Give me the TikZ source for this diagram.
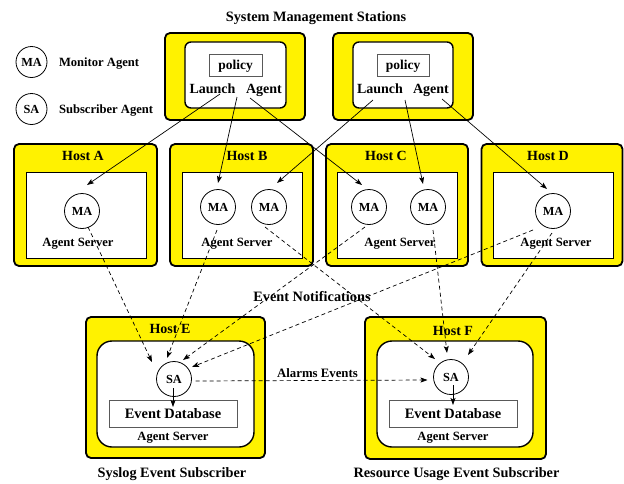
\documentclass[tikz,border=0pt]{standalone}
\usepackage{fontspec}
\setmainfont{Liberation Serif}
\usetikzlibrary{arrows.meta,calc}
\begin{document}
\begin{tikzpicture}[x=1pt,y=-1pt,
  every node/.style={inner sep=0pt, outer sep=0pt},
  txt/.style={font=\bfseries\fontsize{#1}{#1}\selectfont, text height={0.66*#1pt}, text depth=0pt},
  yb/.style={draw=black, fill=yellow, line width=1.8pt, rounded corners=5pt},
  wb/.style={draw=black, fill=white, line width=1.4pt, rounded corners=#1},
  hb/.style={draw=black, fill=white, line width=1pt},
  gb/.style={draw=black!65, fill=white, line width=1pt},
  agent/.style={circle, draw=black, fill=white, line width=0.8pt, minimum size=35pt, txt=12.3},
  arr/.style={-{Stealth[length=7pt,width=5pt,inset=1.5pt]}, line width=0.7pt},
  darr/.style={arr, dash pattern=on 4pt off 3pt}]
\path[fill=white,use as bounding box] (0,0) rectangle (624,483);

% title and legend
\node[txt=14.3] (title) at (316,17) {System Management Stations};
\node[agent, minimum size=31pt, txt=12.3] (lgMA) at (31.5,62) {MA};
\node[txt=12.6, anchor=west] (lgMAt) at (59,62) {Monitor Agent};
\node[agent, minimum size=31pt, txt=12.3] (lgSA) at (31.5,109) {SA};
\node[txt=12.6, anchor=west] (lgSAt) at (59,109) {Subscriber Agent};

% stations
\node[yb, minimum width=140, minimum height=87] (st1) at (235,76.5) {};
\node[wb=6pt, minimum width=101, minimum height=66] (st1in) at (235.5,75) {};
\node[gb, minimum width=53, minimum height=22, txt=13.5] (pol1) at (235.5,65) {policy};
\node[txt=14] (la1) at (212.5,88.5) {Launch};
\node[txt=14] (ag1) at (264,88.5) {Agent};

\node[yb, minimum width=140, minimum height=87] (st2) at (403,76.5) {};
\node[wb=6pt, minimum width=100, minimum height=66] (st2in) at (403,75) {};
\node[gb, minimum width=52, minimum height=22, txt=13.5] (pol2) at (403,65) {policy};
\node[txt=14] (la2) at (380,88.5) {Launch};
\node[txt=14] (ag2) at (431,88.5) {Agent};

\coordinate (o1a) at (220,94);
\coordinate (o1b) at (237,97);
\coordinate (o1c) at (250,98);
\coordinate (o2a) at (373,100);
\coordinate (o2b) at (405,100);
\coordinate (o2c) at (442,99);

% hosts A-D
\node[yb, minimum width=143, minimum height=122] (hA) at (85.5,205) {};
\node[hb, minimum width=120, minimum height=86] (hAin) at (86,215) {};
\node[txt=14] (hAl) at (83,155.5) {Host A};
\node[agent] (maA) at (82,211) {MA};
\node[txt=12.6] (asA) at (78,242) {Agent Server};

\node[yb, minimum width=143, minimum height=122] (hB) at (241.5,205) {};
\node[hb, minimum width=120, minimum height=86] (hBin) at (242,215) {};
\node[txt=14] (hBl) at (247,155.5) {Host B};
\node[agent] (maB1) at (218,207) {MA};
\node[agent] (maB2) at (269,207) {MA};
\node[txt=12.6] (asB) at (237,242) {Agent Server};

\node[yb, minimum width=142, minimum height=122] (hC) at (397,205) {};
\node[hb, minimum width=120, minimum height=86] (hCin) at (397,215) {};
\node[txt=14] (hCl) at (386,155.5) {Host C};
\node[agent] (maC1) at (369,207) {MA};
\node[agent] (maC2) at (428,207) {MA};
\node[txt=12.6] (asC) at (400,242) {Agent Server};

\node[yb, minimum width=141, minimum height=122] (hD) at (552,205) {};
\node[hb, minimum width=120, minimum height=86] (hDin) at (553,215) {};
\node[txt=14] (hDl) at (548,155.5) {Host D};
\node[agent] (maD) at (553,211) {MA};
\node[txt=12.6] (asD) at (556,242) {Agent Server};

% hosts E, F
\node[yb, minimum width=179, minimum height=141] (hE) at (175.5,387.5) {};
\node[wb=15pt, minimum width=157, minimum height=106] (hEin) at (175.5,394) {};
\node[txt=14] (hEl) at (170,329) {Host E};
\node[agent] (saE) at (174,379) {SA};
\node[gb, minimum width=128, minimum height=27, txt=14.4] (dbE) at (173,413.5) {Event Database};
\node[txt=12.6] (asE) at (173,436) {Agent Server};
\node[txt=14.3] (subE) at (172,473) {Syslog Event Subscriber};

\node[yb, minimum width=181, minimum height=142] (hF) at (455.5,388) {};
\node[wb=15pt, minimum width=156, minimum height=106] (hFin) at (455,394) {};
\node[txt=14] (hFl) at (453,331) {Host F};
\node[agent] (saF) at (451,377) {SA};
\node[gb, minimum width=128, minimum height=27, txt=14.4] (dbF) at (453,413.5) {Event Database};
\node[txt=12.6] (asF) at (453,436) {Agent Server};
\node[txt=14.3] (subF) at (456.5,473) {Resource Usage Event Subscriber};

\node[txt=14.3] (evn) at (312,297) {Event Notifications};
\node[txt=12.8] (alm) at (317.5,373) {Alarms Events};

% launch arrows
\draw[arr] (o1a) -- ($(maA)+(5,-26)$);
\draw[arr] (o1b) -- ($(maB1)+(0,-24)$);
\draw[arr] (o1c) -- ($(maC1)+(-7,-22)$);
\draw[arr] (o2a) -- ($(maB2)+(8,-24)$);
\draw[arr] (o2b) -- ($(maC2)+(-5,-23)$);
\draw[arr] (o2c) -- ($(maD)+(-6,-22)$);

% event notifications
\draw[darr] ($(maA)+(6,16)$) -- ($(saE)+(-22,-17)$);
\draw[darr] ($(maB1)+(-1,23)$) -- ($(saE)+(-7,-21)$);
\draw[darr] ($(maC1)+(-4,20)$) -- ($(saE)+(9,-19)$);
\draw[darr] ($(maD)+(-20,19)$) -- ($(saE)+(18,-12)$);
\draw[darr] ($(maB2)+(-4,20)$) -- ($(saF)+(-16,-18)$);
\draw[darr] ($(maC2)+(5,23)$) -- ($(saF)+(-4,-24)$);
\draw[darr] ($(maD)+(-1,22)$) -- ($(saF)+(17,-22)$);

% alarms and database
\draw[darr] ($(saE.east)+(4,2)$) -- ($(saF.west)+(-6,3)$);
\draw[arr] ($(saE)+(-1,9)$) -- ($(dbE.north)+(0,7)$);
\draw[arr] ($(saF)+(2,8)$) -- ($(dbF.north)+(0,5)$);
\end{tikzpicture}
\end{document}
